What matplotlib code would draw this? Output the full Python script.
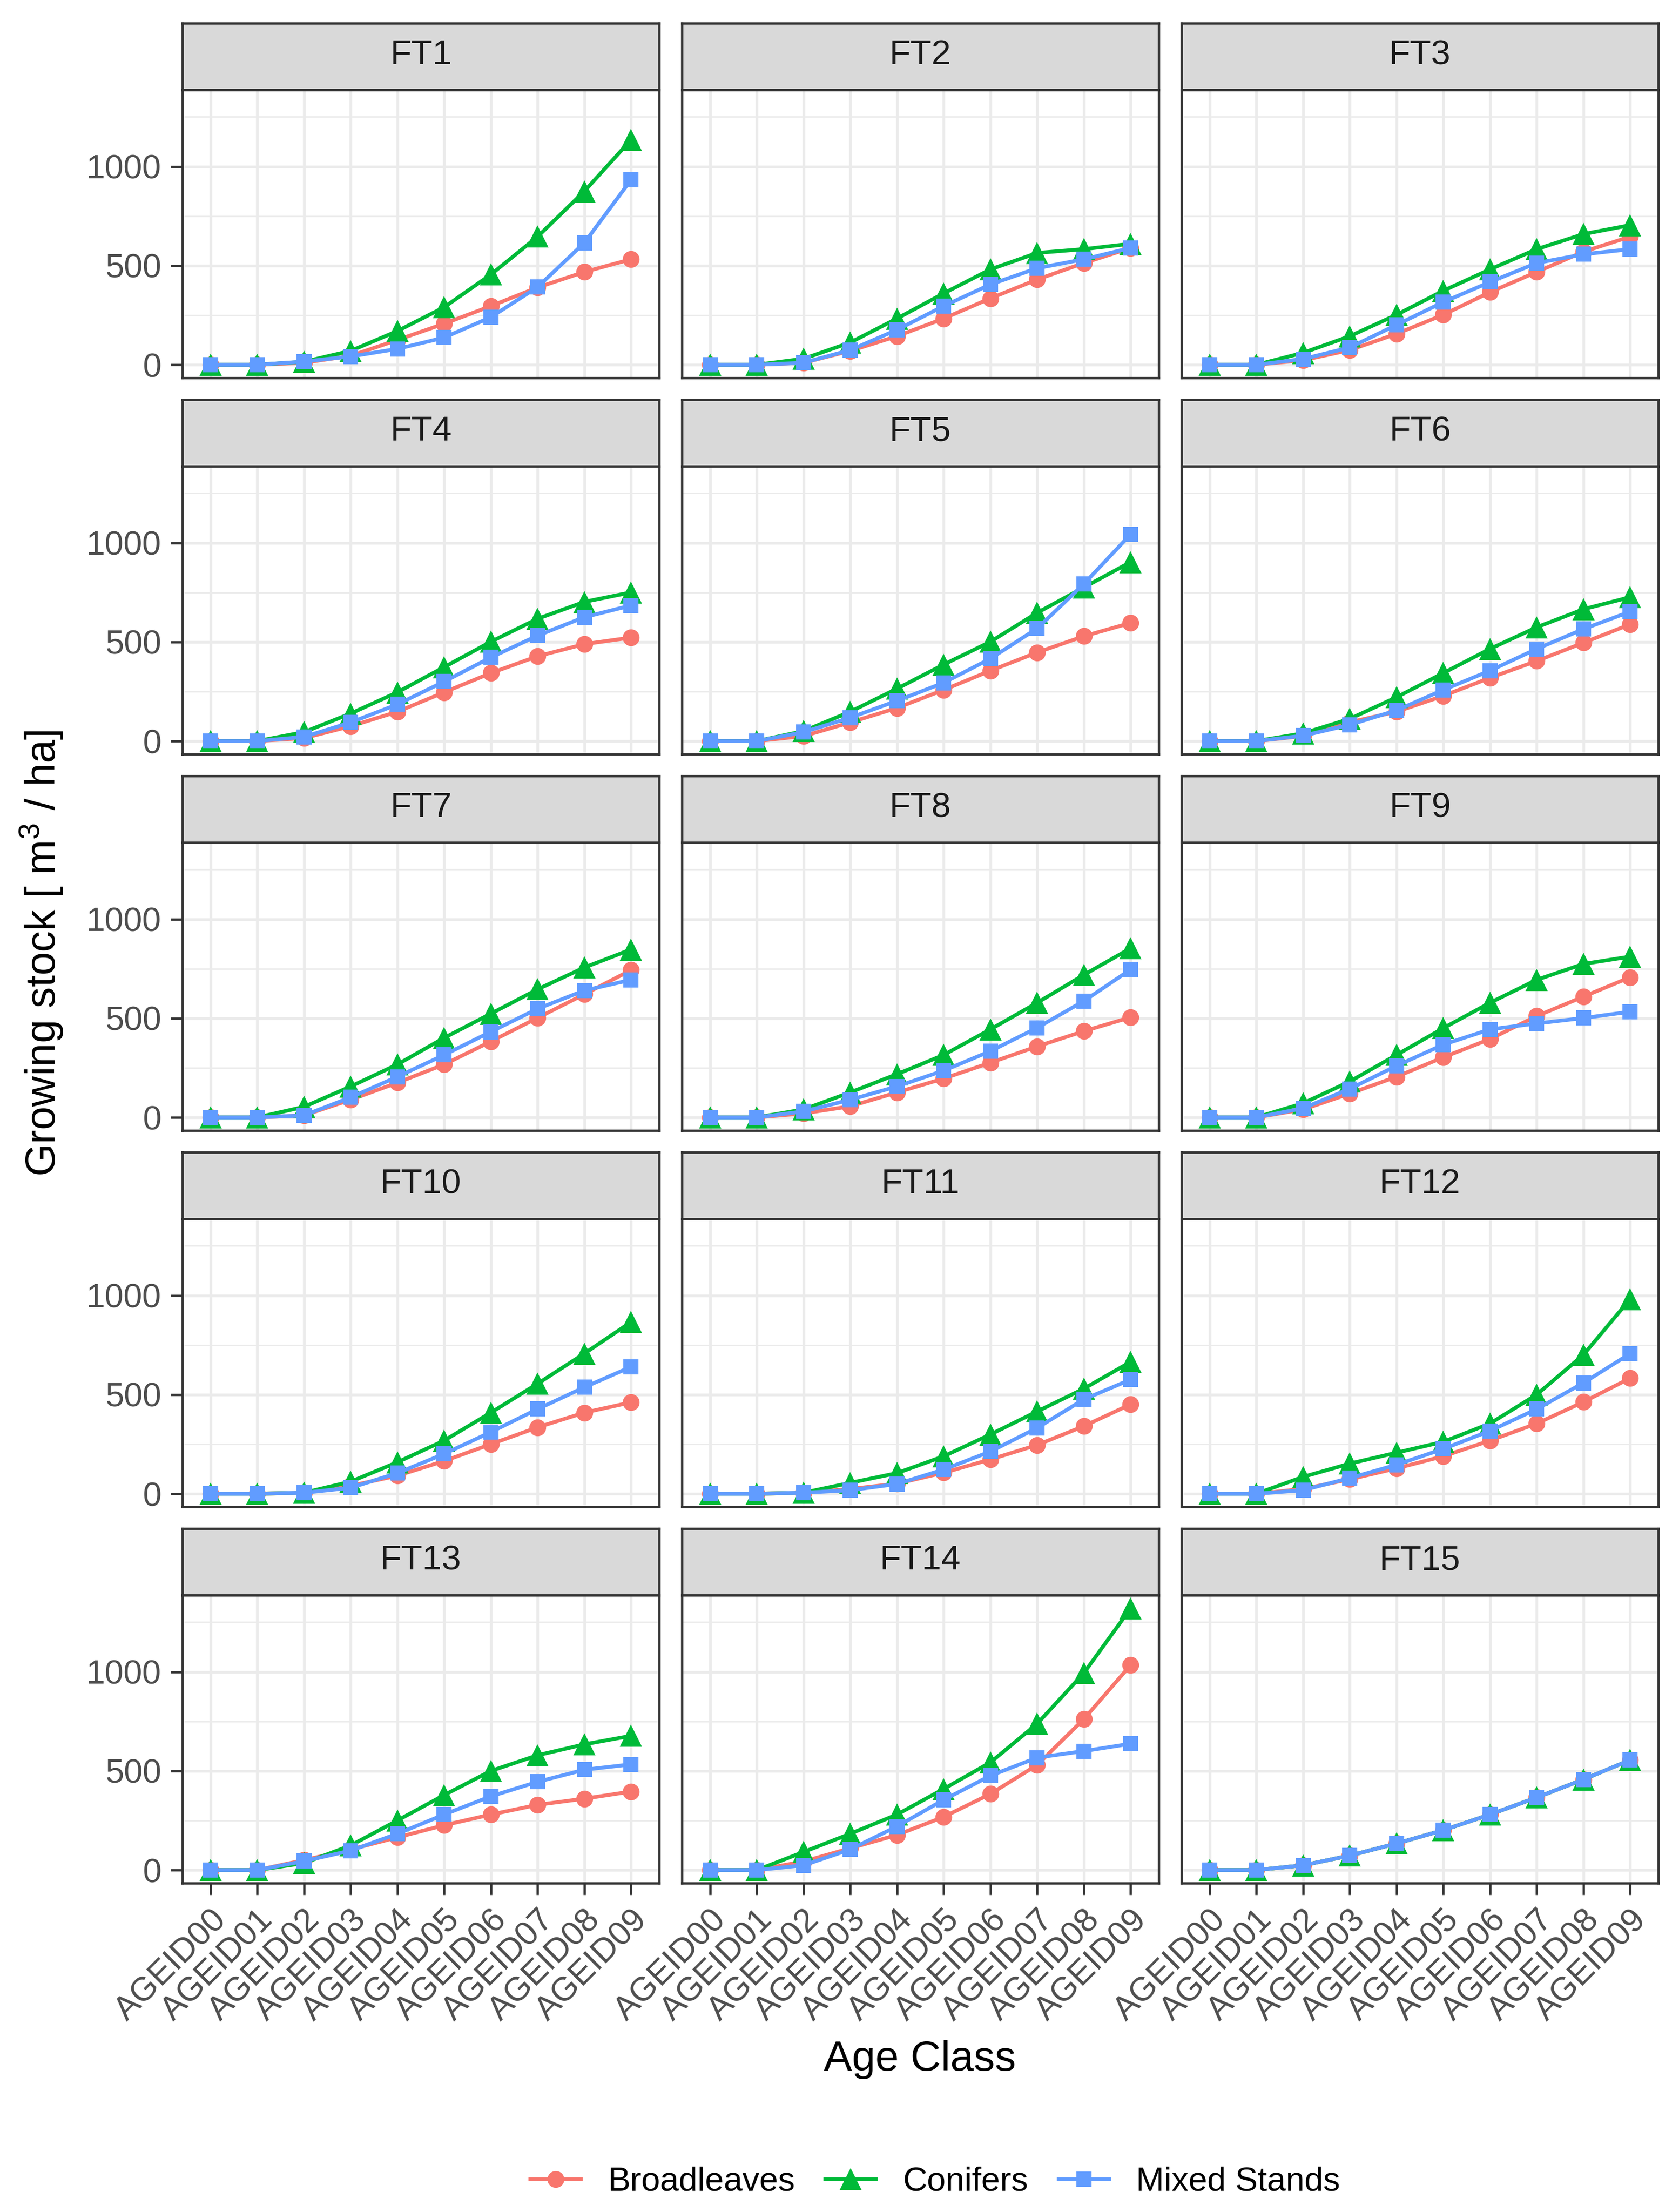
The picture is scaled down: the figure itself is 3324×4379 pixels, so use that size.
import matplotlib.pyplot as plt
from matplotlib.lines import Line2D

plt.rcParams['font.family'] = ['Liberation Sans', 'DejaVu Sans']
plt.rcParams['mathtext.fontset'] = 'custom'
plt.rcParams['mathtext.rm'] = 'Liberation Sans'
plt.rcParams['mathtext.it'] = 'Liberation Sans:italic'

age_classes = ["AGEID00", "AGEID01", "AGEID02", "AGEID03", "AGEID04",
               "AGEID05", "AGEID06", "AGEID07", "AGEID08", "AGEID09"]
forest_types = ["FT%d" % i for i in range(1, 16)]

# growing stock per forest type
broadleaves = {
    "FT1": [0, 0, 10, 45, 125, 207, 296, 390, 468, 532],
    "FT2": [0, 0, 10, 70, 144, 233, 335, 430, 513, 589],
    "FT3": [0, 0, 23, 74, 156, 252, 366, 468, 570, 646],
    "FT4": [0, 0, 15, 75, 148, 246, 343, 428, 489, 522],
    "FT5": [0, 0, 25, 94, 167, 258, 355, 447, 529, 596],
    "FT6": [0, 0, 25, 95, 148, 228, 319, 404, 496, 589],
    "FT7": [0, 0, 10, 89, 175, 267, 383, 502, 621, 743],
    "FT8": [0, 0, 20, 56, 126, 196, 276, 358, 435, 505],
    "FT9": [0, 0, 40, 120, 205, 303, 395, 511, 609, 707],
    "FT10": [0, 0, 5, 40, 91, 165, 250, 335, 409, 461],
    "FT11": [0, 0, 5, 24, 51, 106, 173, 246, 341, 451],
    "FT12": [0, 0, 24, 73, 128, 189, 268, 354, 463, 583],
    "FT13": [0, 0, 50, 104, 165, 226, 280, 329, 360, 396],
    "FT14": [0, 0, 43, 110, 177, 268, 384, 530, 762, 1034],
    "FT15": [0, 0, 24, 73, 134, 201, 280, 366, 457, 555],
}
conifers = {
    "FT1": [0, 0, 15, 70, 170, 290, 455, 646, 875, 1135],
    "FT2": [0, 0, 30, 112, 233, 360, 481, 564, 583, 610],
    "FT3": [0, 0, 60, 144, 252, 373, 481, 583, 659, 704],
    "FT4": [0, 0, 45, 139, 246, 373, 501, 617, 702, 750],
    "FT5": [0, 0, 50, 148, 264, 386, 501, 647, 775, 903],
    "FT6": [0, 0, 39, 112, 221, 343, 465, 574, 665, 726],
    "FT7": [0, 0, 53, 156, 267, 401, 523, 646, 756, 847],
    "FT8": [0, 0, 40, 126, 218, 315, 444, 578, 719, 853],
    "FT9": [0, 0, 71, 181, 315, 450, 578, 694, 774, 811],
    "FT10": [0, 0, 5, 61, 159, 268, 409, 555, 707, 866],
    "FT11": [0, 0, 5, 55, 104, 189, 299, 415, 530, 665],
    "FT12": [0, 0, 85, 152, 207, 262, 354, 500, 701, 982],
    "FT13": [0, 0, 35, 124, 250, 378, 500, 579, 634, 677],
    "FT14": [0, 0, 91, 183, 280, 409, 543, 738, 994, 1320],
    "FT15": [0, 0, 24, 73, 134, 201, 280, 366, 457, 555],
}
mixed = {
    "FT1": [0, 0, 16, 42, 80, 137, 240, 392, 615, 933],
    "FT2": [0, 0, 10, 74, 176, 296, 405, 487, 532, 589],
    "FT3": [0, 0, 29, 87, 201, 316, 417, 513, 557, 583],
    "FT4": [0, 0, 21, 94, 185, 300, 422, 532, 625, 684],
    "FT5": [0, 0, 45, 118, 203, 294, 416, 568, 793, 1043],
    "FT6": [0, 0, 27, 82, 155, 258, 355, 465, 565, 653],
    "FT7": [0, 0, 10, 101, 205, 315, 432, 548, 640, 694],
    "FT8": [0, 0, 30, 89, 156, 236, 334, 452, 587, 746],
    "FT9": [0, 0, 46, 144, 260, 367, 444, 474, 501, 533],
    "FT10": [0, 0, 5, 30, 104, 201, 311, 427, 537, 640],
    "FT11": [0, 0, 5, 18, 49, 122, 213, 332, 476, 576],
    "FT12": [0, 0, 18, 79, 146, 226, 317, 427, 559, 707],
    "FT13": [0, 0, 45, 98, 183, 280, 372, 445, 506, 533],
    "FT14": [0, 0, 24, 104, 220, 354, 476, 567, 600, 637],
    "FT15": [0, 0, 24, 73, 134, 201, 280, 366, 457, 555],
}

series = [
    ("Broadleaves", broadleaves, "#F8766D", "o", 8.0),
    ("Conifers", conifers, "#00BA38", "^", 10.5),
    ("Mixed Stands", mixed, "#619CFF", "s", 7.4),
]

# layout in pixels of the final image
W, H = 3324, 4379
col_x = [361, 1350, 2339]
panel_w = 944
row_top0, row_pitch = 46, 745
strip_h, panel_h = 132, 570

ymax = max(max(max(d[ft]) for ft in forest_types) for _, d, _, _, _ in series)
ylim = (-0.05 * ymax, 1.05 * ymax)

fig = plt.figure(figsize=(W / 300, H / 300), dpi=300)

for i, ft in enumerate(forest_types):
    r, c = divmod(i, 3)
    x0 = col_x[c]
    top = row_top0 + r * row_pitch

    sax = fig.add_axes([x0 / W, 1 - (top + strip_h) / H, panel_w / W, strip_h / H])
    sax.set_facecolor("#D9D9D9")
    sax.set_xticks([])
    sax.set_yticks([])
    for sp in sax.spines.values():
        sp.set_color("#333333")
        sp.set_linewidth(1.1)
    sax.text(0.5, 0.52, ft, ha="center", va="center", fontsize=16.5, color="#1A1A1A")

    ax = fig.add_axes([x0 / W, 1 - (top + strip_h + panel_h) / H, panel_w / W, panel_h / H])
    x = list(range(len(age_classes)))
    for z, (name, d, color, mk, ms) in enumerate(series):
        ax.plot(x, d[ft], color=color, lw=1.8, marker=mk, ms=ms, mew=0, zorder=3 + z)

    ax.set_xlim(-0.6, len(age_classes) - 0.4)
    ax.set_ylim(*ylim)
    ax.set_xticks(x)
    ax.set_yticks([0, 500, 1000])
    ax.set_yticks([250, 750, 1250], minor=True)
    ax.set_axisbelow(True)
    ax.grid(which="major", color="#EBEBEB", lw=1.3)
    ax.grid(which="minor", axis="y", color="#EBEBEB", lw=0.65)
    for sp in ax.spines.values():
        sp.set_color("#333333")
        sp.set_linewidth(1.1)
    ax.tick_params(which="minor", length=0)
    ax.tick_params(which="major", length=5.5, width=1.1, color="#333333",
                   labelsize=16, labelcolor="#4D4D4D", pad=4.5)

    if c == 0:
        ax.set_yticklabels(["0", "500", "1000"])
    else:
        ax.tick_params(axis="y", left=False, labelleft=False)

    if r == 4:
        ax.set_xticklabels(age_classes, rotation=45, ha="right", va="top",
                           rotation_mode="anchor")
    else:
        ax.tick_params(axis="x", bottom=False, labelbottom=False)

fig.text(0.025, 0.569, "Growing stock [ m$^3$ / ha]", rotation=90,
         ha="center", va="center", fontsize=20)
fig.text(0.548, 0.069, "Age Class", ha="center", va="center", fontsize=20)

handles = [Line2D([0], [0], color=color, lw=1.8, marker=mk, ms=ms, mew=0)
           for _, _, color, mk, ms in series]
labels = [name for name, _, _, _, _ in series]
fig.legend(handles, labels, loc="center", bbox_to_anchor=(0.557, 0.0135), ncol=3,
           frameon=False, fontsize=16, handlelength=1.5, handletextpad=0.8,
           columnspacing=0.9)

fig.savefig("out.png", dpi=300)
